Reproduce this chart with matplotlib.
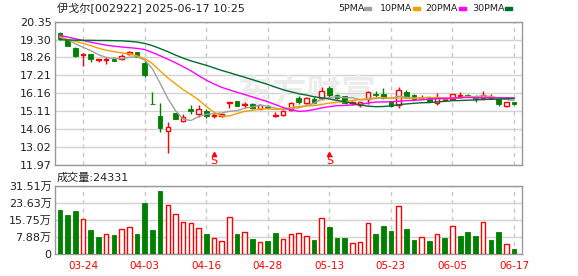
import matplotlib
matplotlib.use('Agg')
import numpy as np
import matplotlib.pyplot as plt
import matplotlib.transforms as mtransforms

plt.rcParams['font.family'] = ['DejaVu Sans', 'Noto Sans CJK SC']

# ---- data ----
dates = ['03-19', '03-20', '03-21', '03-24', '03-25', '03-26', '03-27', '03-28', '03-31', '04-01',
         '04-02', '04-03', '04-07', '04-08', '04-09', '04-10', '04-11', '04-14', '04-15', '04-16',
         '04-17', '04-18', '04-21', '04-22', '04-23', '04-24', '04-25', '04-28', '04-29', '04-30',
         '05-06', '05-07', '05-08', '05-09', '05-12', '05-13', '05-14', '05-15', '05-16', '05-19',
         '05-20', '05-21', '05-22', '05-23', '05-26', '05-27', '05-28', '05-29', '05-30', '06-03',
         '06-04', '06-05', '06-06', '06-09', '06-10', '06-11', '06-12', '06-13', '06-16', '06-17']

opens = [19.67, 19.28, 18.79, 18.40, 18.44, 18.12, 18.13, 18.16, 18.15, 18.45,
         18.56, 17.95, 15.53, 14.84, 13.96, 14.99, 14.52, 15.22, 14.97, 15.13,
         14.86, 14.84, 15.60, 15.71, 15.50, 15.52, 15.27, 15.38, 14.84, 14.90,
         15.20, 15.91, 15.58, 15.83, 15.87, 16.45, 16.07, 15.99, 15.60, 15.48,
         15.82, 16.13, 16.13, 15.70, 15.45, 16.22, 16.05, 15.88, 15.91, 15.59,
         15.78, 15.82, 16.03, 16.07, 15.98, 15.88, 15.89, 15.81, 15.44, 15.65]
highs = [19.75, 19.32, 18.88, 18.50, 18.46, 18.15, 18.30, 18.27, 18.44, 18.66,
         18.58, 18.05, 16.26, 15.58, 14.50, 15.02, 14.95, 15.48, 15.45, 15.22,
         15.05, 14.95, 15.66, 15.73, 15.68, 15.58, 15.55, 15.46, 15.08, 15.20,
         15.68, 15.98, 15.93, 15.93, 16.53, 16.60, 16.12, 16.03, 15.73, 15.68,
         16.28, 16.29, 16.49, 15.72, 16.52, 16.35, 16.13, 16.06, 15.95, 16.18,
         15.90, 16.15, 16.22, 16.14, 16.05, 16.30, 16.14, 15.83, 15.66, 15.67]
lows = [19.30, 18.93, 18.27, 17.78, 18.00, 18.02, 17.88, 18.03, 18.13, 18.40,
        18.28, 17.13, 15.51, 13.92, 12.69, 14.64, 14.50, 14.98, 14.80, 14.70,
        14.70, 14.80, 15.32, 15.42, 15.32, 15.25, 15.22, 15.22, 14.80, 14.82,
        15.10, 15.55, 15.55, 15.55, 15.78, 15.97, 15.85, 15.58, 15.50, 15.35,
        15.55, 15.92, 15.82, 15.37, 15.30, 15.90, 15.80, 15.81, 15.64, 15.48,
        15.70, 15.77, 15.88, 15.97, 15.63, 15.78, 15.80, 15.42, 15.38, 15.50]
closes = [19.36, 18.95, 18.35, 18.48, 18.16, 18.14, 18.16, 18.08, 18.36, 18.60,
          18.30, 17.23, 15.51, 14.12, 14.20, 14.68, 14.76, 15.10, 15.25, 14.85,
          14.90, 14.93, 15.64, 15.44, 15.53, 15.30, 15.46, 15.30, 14.88, 15.12,
          15.62, 15.65, 15.90, 15.62, 16.29, 16.08, 15.90, 15.62, 15.64, 15.66,
          16.24, 16.09, 15.89, 15.40, 16.35, 15.93, 15.85, 15.91, 15.68, 15.88,
          15.82, 16.10, 16.06, 16.03, 15.84, 16.06, 15.92, 15.56, 15.63, 15.52]
prev_close = 19.80

ma5 = [19.50, 19.30, 19.05, 18.85, 18.66, 18.42, 18.26, 18.20, 18.18, 18.27,
       18.30, 18.11, 17.60, 16.75, 15.87, 15.15, 14.65, 14.57, 14.80, 14.93,
       14.97, 15.01, 15.11, 15.15, 15.29, 15.37, 15.47, 15.41, 15.29, 15.21,
       15.28, 15.31, 15.43, 15.58, 15.82, 15.91, 15.96, 15.90, 15.91, 15.78,
       15.81, 15.85, 15.90, 15.86, 15.99, 15.93, 15.88, 15.89, 15.94, 15.85,
       15.83, 15.88, 15.91, 15.98, 15.97, 16.02, 15.98, 15.88, 15.80, 15.74]
ma10 = [19.44, 19.30, 19.20, 19.08, 18.95, 18.80, 18.68, 18.60, 18.53, 18.46,
        18.36, 18.19, 17.90, 17.47, 17.07, 16.72, 16.38, 16.09, 15.78, 15.40,
        15.06, 14.83, 14.84, 14.98, 15.11, 15.17, 15.24, 15.26, 15.22, 15.25,
        15.32, 15.39, 15.42, 15.44, 15.51, 15.59, 15.64, 15.67, 15.74, 15.80,
        15.86, 15.90, 15.90, 15.88, 15.89, 15.87, 15.87, 15.90, 15.90, 15.92,
        15.88, 15.88, 15.90, 15.96, 15.91, 15.92, 15.93, 15.90, 15.89, 15.85]
ma20 = [19.55, 19.45, 19.35, 19.25, 19.15, 19.06, 18.98, 18.92, 18.87, 18.83,
        18.79, 18.72, 18.55, 18.36, 18.16, 17.95, 17.72, 17.48, 17.20, 16.93,
        16.71, 16.51, 16.37, 16.22, 16.09, 15.95, 15.81, 15.67, 15.50, 15.33,
        15.19, 15.11, 15.13, 15.21, 15.31, 15.38, 15.44, 15.46, 15.48, 15.52,
        15.59, 15.65, 15.66, 15.66, 15.70, 15.73, 15.75, 15.78, 15.82, 15.86,
        15.87, 15.89, 15.90, 15.92, 15.90, 15.90, 15.90, 15.90, 15.90, 15.89]
ma30 = [19.30, 19.28, 19.27, 19.26, 19.26, 19.25, 19.25, 19.24, 19.23, 19.20,
        19.16, 19.08, 18.95, 18.78, 18.60, 18.40, 18.22, 18.06, 17.93, 17.80,
        17.65, 17.50, 17.37, 17.23, 17.10, 16.96, 16.82, 16.68, 16.52, 16.37,
        16.25, 16.14, 16.06, 15.96, 15.90, 15.83, 15.75, 15.67, 15.58, 15.48,
        15.41, 15.38, 15.39, 15.43, 15.50, 15.54, 15.58, 15.61, 15.62, 15.66,
        15.69, 15.73, 15.74, 15.76, 15.77, 15.80, 15.81, 15.82, 15.84, 15.86]

# volume in 万
volume = [20.4, 18.1, 20.1, 16.3, 11.4, 8.0, 9.4, 8.9, 11.7, 12.4,
          9.4, 23.7, 11.4, 29.2, 22.7, 18.5, 14.9, 14.4, 12.0, 9.4,
          7.4, 6.1, 17.1, 9.4, 10.1, 7.1, 5.5, 6.1, 9.7, 6.9,
          9.2, 9.7, 8.4, 6.6, 16.6, 12.6, 7.7, 7.7, 5.1, 5.5,
          14.3, 9.4, 13.1, 10.7, 22.1, 11.7, 6.6, 7.8, 6.1, 9.2,
          7.5, 12.9, 8.4, 10.3, 8.4, 14.8, 6.6, 10.3, 4.6, 2.4331]

price_ticks = [20.35, 19.30, 18.26, 17.21, 16.16, 15.11, 14.06, 13.02, 11.97]
vol_ticks = [0, 7.8775, 15.755, 23.6325, 31.51]
vol_labels = ['0', '7.88万', '15.75万', '23.63万', '31.51万']
tick_dates = ['03-24', '04-03', '04-16', '04-28', '05-13', '05-23', '06-05', '06-17']
s_dates = ['04-17', '05-13']

title = '伊戈尔[002922] 2025-06-17 10:25'
vol_title = '成交量:24331'
ma_names = ['5PMA', '10PMA', '20PMA', '30PMA']

RED = '#ff0000'
GREEN = '#008000'
GRID = '#d2d2d2'
FRAME = '#999999'
ma_colors = ['#a0a0a0', '#f5a000', '#ff00ff', '#006b33']

x = np.arange(len(dates))
o = np.array(opens); h = np.array(highs); l = np.array(lows); c = np.array(closes)
up = c >= o
pc = np.concatenate([[prev_close], c[:-1]])
vup = c >= pc
tick_idx = [dates.index(d) for d in tick_dates]

fig = plt.figure(figsize=(5.78, 2.76), dpi=100)
ax = fig.add_axes([0.0952, 0.4022, 0.8080, 0.5192])
axv = fig.add_axes([0.0952, 0.0786, 0.8080, 0.2475])

for a in (ax, axv):
    a.set_xlim(-0.65, len(dates) + 0.04)
    for s in a.spines.values():
        s.set_color(FRAME)
        s.set_linewidth(1)
    a.set_xticks(tick_idx)
    a.grid(True, axis='y', color=GRID, lw=1, ls='-', zorder=0)
    a.grid(True, axis='x', color='#c8c8c8', lw=1, ls=(0, (3, 3)), zorder=0)
    a.tick_params(length=0, labelsize=8, colors='#222222', pad=2.5)
    a.set_axisbelow(True)

# watermark
ax.text(0.54, 0.50, '东方财富', transform=ax.transAxes, fontsize=25, fontweight='bold',
        color='#ececec', ha='center', va='center', zorder=1)

# candles
ax.vlines(x[up], l[up], h[up], color=RED, lw=1, zorder=3)
ax.vlines(x[~up], l[~up], h[~up], color=GREEN, lw=1, zorder=3)
ax.bar(x[up], np.maximum(c - o, 0.01)[up], bottom=o[up], width=0.58,
       facecolor='white', edgecolor=RED, lw=1, zorder=4)
ax.bar(x[~up], (o - c)[~up], bottom=c[~up], width=0.62,
       color=GREEN, edgecolor=GREEN, lw=0.6, zorder=4)

for ma, col in zip([ma5, ma10, ma20, ma30], ma_colors):
    ax.plot(x, ma, color=col, lw=1, zorder=5)

ax.set_ylim(price_ticks[-1], price_ticks[0])
ax.set_yticks(price_ticks)
ax.set_yticklabels(['%.2f' % t for t in price_ticks])
ax.set_xticklabels([])

# S markers
trans = mtransforms.blended_transform_factory(ax.transData, ax.transAxes)
for d in s_dates:
    i = dates.index(d)
    ax.text(i, -0.005, 'S', transform=trans, color=RED, fontsize=8,
            ha='center', va='bottom', zorder=6)
    ax.plot([i], [0.08], marker='^', ms=3, color=RED, transform=trans,
            clip_on=False, zorder=6)

# volume
vol = np.array(volume)
axv.bar(x[vup], vol[vup], width=0.58, facecolor='white', edgecolor=RED, lw=1, zorder=3)
axv.bar(x[~vup], vol[~vup], width=0.62, color=GREEN, edgecolor=GREEN, lw=0.6, zorder=3)
axv.set_ylim(0, vol_ticks[-1])
axv.set_yticks(vol_ticks)
axv.set_yticklabels(vol_labels)
axv.set_xticklabels(tick_dates)
axv.tick_params(axis='x', colors=RED, labelsize=7.5, pad=5)

# titles / legend
fig.text(57 / 578, 1 - 8.5 / 276, title, fontsize=8, color='#222222', va='center', ha='left')
fig.text(57 / 578, 1 - 177.5 / 276, vol_title, fontsize=8, color='#222222', va='center', ha='left')

leg_x = [338, 380, 425, 472]
mark_x = [364, 413, 459, 505]
for name, col, lx, mx in zip(ma_names, ma_colors, leg_x, mark_x):
    fig.text(lx / 578, 1 - 8.5 / 276, name, fontsize=6.8, color='#222222', va='center', ha='left')
    fig.patches.append(plt.Rectangle((mx / 578, 1 - 10 / 276), 7 / 578, 3 / 276,
                                     transform=fig.transFigure, color=col, figure=fig))

fig.savefig('out.png', dpi=100)
